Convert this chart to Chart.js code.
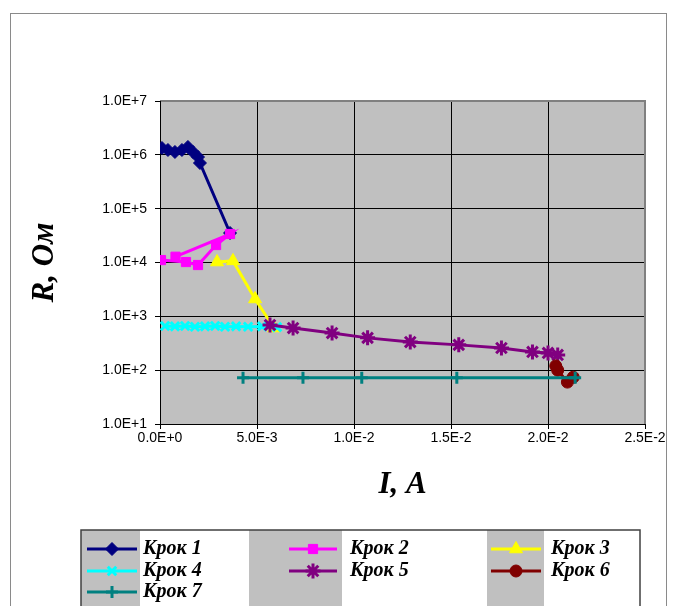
<!DOCTYPE html>
<html>
<head>
<meta charset="utf-8">
<script src="https://cdn.jsdelivr.net/npm/chart.js@4/dist/chart.umd.min.js"></script>
<style>
    html, body { margin: 0; padding: 0; background: #fff; }
    #wrap { position: relative; width: 675px; height: 606px; overflow: hidden; }
    #frame { position: absolute; left: 10px; top: 13px; width: 657px; height: 620px; border: 1px solid #8a8a8a; box-sizing: border-box; }
    canvas { position: absolute; left: 0; top: 0; }
</style>
</head>
<body>
<div id="wrap">
    <div id="frame"></div>
    <canvas id="chart" width="675" height="606"></canvas>
</div>
<script>
// I, A  /  R, Ohm for each step
const krok1I = [1.0e-4, 4.1e-4, 7.7e-4, 1.13e-3, 1.44e-3, 1.70e-3, 1.96e-3, 2.06e-3, 3.61e-3];
const krok1R = [1.34e6, 1.23e6, 1.13e6, 1.23e6, 1.40e6, 1.13e6, 9.1e5, 7.05e5, 3.53e4];

const krok2I = [5e-5, 1.34e-3, 1.96e-3, 2.89e-3, 3.61e-3, 8.0e-4];
const krok2R = [1.11e4, 1.02e4, 8.98e3, 2.11e4, 3.38e4, 1.28e4];

const krok3I = [2.94e-3, 3.76e-3, 4.90e-3, 5.88e-3];
const krok3R = [1.02e4, 1.07e4, 2.10e3, 607];

const krok4I = [2.6e-4, 7.7e-4, 1.29e-3, 1.80e-3, 2.32e-3, 2.84e-3, 3.35e-3, 3.92e-3, 4.54e-3, 5.26e-3, 6.03e-3];
const krok4R = [660, 650, 660, 640, 650, 660, 640, 650, 640, 650, 630];

const krok5I = [5.67e-3, 6.86e-3, 8.87e-3, 1.07e-2, 1.29e-2, 1.54e-2, 1.76e-2, 1.92e-2, 2.0e-2, 2.05e-2];
const krok5R = [690, 605, 490, 398, 333, 295, 258, 218, 209, 192];

const krok6I = [2.04e-2, 2.05e-2, 2.10e-2, 2.13e-2];
const krok6R = [120, 100, 60, 74];

const krok7I = [4.28e-3, 7.37e-3, 1.04e-2, 1.53e-2, 2.14e-2];
const krok7R = [72, 72, 72, 72, 72];

const seriesNames = ["Крок 1", "Крок 2", "Крок 3", "Крок 4", "Крок 5", "Крок 6", "Крок 7"];
const yTicks = [1e1, 1e2, 1e3, 1e4, 1e5, 1e6, 1e7];
const xTicks = [0, 0.005, 0.01, 0.015, 0.02, 0.025];

const styles = [
    { color: "#000080", point: "rectRot", radius: 6.5, bw: 1 },
    { color: "#ff00ff", point: "rect", radius: 6.5, bw: 1 },
    { color: "#ffff00", point: "triangle", radius: 7.5, bw: 1 },
    { color: "#00ffff", point: "crossRot", radius: 6, bw: 3 },
    { color: "#800080", point: "star", radius: 7.5, bw: 3 },
    { color: "#800000", point: "circle", radius: 6, bw: 1 },
    { color: "#008080", point: "cross", radius: 6, bw: 3 }
];

function toPoints(xs, ys) {
    return xs.map((x, i) => ({ x, y: ys[i] }));
}

const allData = [
    toPoints(krok1I, krok1R), toPoints(krok2I, krok2R), toPoints(krok3I, krok3R),
    toPoints(krok4I, krok4R), toPoints(krok5I, krok5R), toPoints(krok6I, krok6R),
    toPoints(krok7I, krok7R)
];

const datasets = allData.map((data, i) => ({
    label: seriesNames[i],
    data,
    showLine: true,
    borderColor: styles[i].color,
    backgroundColor: styles[i].color,
    borderWidth: 3,
    pointStyle: styles[i].point,
    pointRadius: styles[i].radius,
    pointBorderWidth: styles[i].bw,
    pointBackgroundColor: styles[i].color,
    pointBorderColor: styles[i].color,
    order: seriesNames.length - i
}));

function sci(v) {
    return v.toExponential(1).toUpperCase();
}

const plotBg = {
    id: "plotBg",
    beforeDraw(chart) {
        const { ctx, chartArea: a } = chart;
        ctx.save();
        ctx.fillStyle = "#c0c0c0";
        ctx.fillRect(a.left, a.top, a.right - a.left, a.bottom - a.top);
        ctx.restore();
    },
    beforeDatasetsDraw(chart) {
        const { ctx, chartArea: a } = chart;
        ctx.save();
        ctx.strokeStyle = "#808080";
        ctx.lineWidth = 2;
        ctx.beginPath();
        ctx.moveTo(a.left, a.top);
        ctx.lineTo(a.right, a.top);
        ctx.lineTo(a.right, a.bottom);
        ctx.stroke();
        ctx.strokeStyle = "#000";
        ctx.lineWidth = 1;
        ctx.beginPath();
        ctx.moveTo(a.left + 0.5, a.top);
        ctx.lineTo(a.left + 0.5, a.bottom + 0.5);
        ctx.lineTo(a.right, a.bottom + 0.5);
        ctx.stroke();
        ctx.restore();
    }
};

// legend laid out like the spreadsheet one: grey marker columns, white text columns
const legendBox = {
    id: "legendBox",
    afterDraw(chart) {
        const ctx = chart.ctx;
        const box = { x: 81, y: 530, w: 559, h: 90 };
        const greyCols = [[81, 140], [249, 342], [487, 544]];
        const swatch = [[87, 137], [289, 337], [491, 541]];
        const textX = [143, 350, 551];
        const rowY = [549, 571, 592];
        ctx.save();
        ctx.fillStyle = "#fff";
        ctx.fillRect(box.x, box.y, box.w, box.h);
        ctx.fillStyle = "#c0c0c0";
        greyCols.forEach(c => ctx.fillRect(c[0], box.y, c[1] - c[0], box.h));
        ctx.strokeStyle = "#404040";
        ctx.lineWidth = 1.5;
        ctx.strokeRect(box.x, box.y, box.w, box.h);

        chart.data.datasets.forEach((ds, i) => {
            const col = i % 3;
            const row = Math.floor(i / 3);
            const y = rowY[row];
            ctx.strokeStyle = ds.borderColor;
            ctx.lineWidth = 3;
            ctx.beginPath();
            ctx.moveTo(swatch[col][0], y);
            ctx.lineTo(swatch[col][1], y);
            ctx.stroke();
            ctx.fillStyle = ds.pointBackgroundColor;
            ctx.strokeStyle = ds.pointBorderColor;
            ctx.lineWidth = ds.pointBorderWidth;
            const cx = (swatch[col][0] + swatch[col][1]) / 2;
            if (Chart.helpers && Chart.helpers.drawPoint) {
                Chart.helpers.drawPoint(ctx, {
                    pointStyle: ds.pointStyle,
                    radius: ds.pointRadius,
                    rotation: 0,
                    borderWidth: ds.pointBorderWidth
                }, cx, y);
            } else {
                ctx.beginPath();
                ctx.arc(cx, y, ds.pointRadius, 0, Math.PI * 2);
                ctx.fill();
            }
            ctx.fillStyle = "#000";
            ctx.font = "bold italic 20px 'Liberation Serif', 'Times New Roman', serif";
            ctx.textBaseline = "middle";
            ctx.textAlign = "left";
            ctx.fillText(ds.label, textX[col], y);
        });
        ctx.restore();
    }
};

new Chart(document.getElementById("chart"), {
    type: "scatter",
    data: { datasets },
    options: {
        responsive: false,
        animation: false,
        events: [],
        layout: {
            padding: { left: 18, top: 101, right: 30, bottom: 102 }
        },
        plugins: {
            legend: { display: false },
            tooltip: { enabled: false }
        },
        scales: {
            x: {
                type: "linear",
                min: 0,
                max: 0.025,
                afterBuildTicks(scale) {
                    scale.ticks = xTicks.map(value => ({ value }));
                },
                afterFit(scale) {
                    scale.height = 80;
                },
                grid: {
                    color: "#000",
                    lineWidth: 1,
                    tickLength: 5,
                    drawTicks: true
                },
                border: { display: true, color: "#000" },
                ticks: {
                    padding: 1,
                    color: "#000",
                    font: { family: "'Liberation Sans', Arial, sans-serif", size: 14 },
                    maxRotation: 0,
                    callback: value => sci(value)
                },
                title: {
                    display: true,
                    text: "I, A",
                    color: "#000",
                    padding: { top: 0, bottom: 0 },
                    font: { family: "'Liberation Serif', 'Times New Roman', serif", size: 31, style: "italic", weight: "bold" }
                }
            },
            y: {
                type: "logarithmic",
                min: 10,
                max: 1e7,
                afterBuildTicks(scale) {
                    scale.ticks = yTicks.map(value => ({ value, major: true }));
                },
                afterFit(scale) {
                    scale.width = 142;
                },
                grid: {
                    color: "#000",
                    lineWidth: 1,
                    tickLength: 5,
                    drawTicks: true
                },
                border: { display: true, color: "#000" },
                ticks: {
                    padding: 8,
                    color: "#000",
                    font: { family: "'Liberation Sans', Arial, sans-serif", size: 14 },
                    callback: value => sci(value)
                },
                title: {
                    display: true,
                    text: "R, Ом",
                    color: "#000",
                    padding: { top: 8, bottom: 0 },
                    font: { family: "'Liberation Serif', 'Times New Roman', serif", size: 31, style: "italic", weight: "bold" }
                }
            }
        }
    },
    plugins: [plotBg, legendBox]
});
</script>
</body>
</html>
